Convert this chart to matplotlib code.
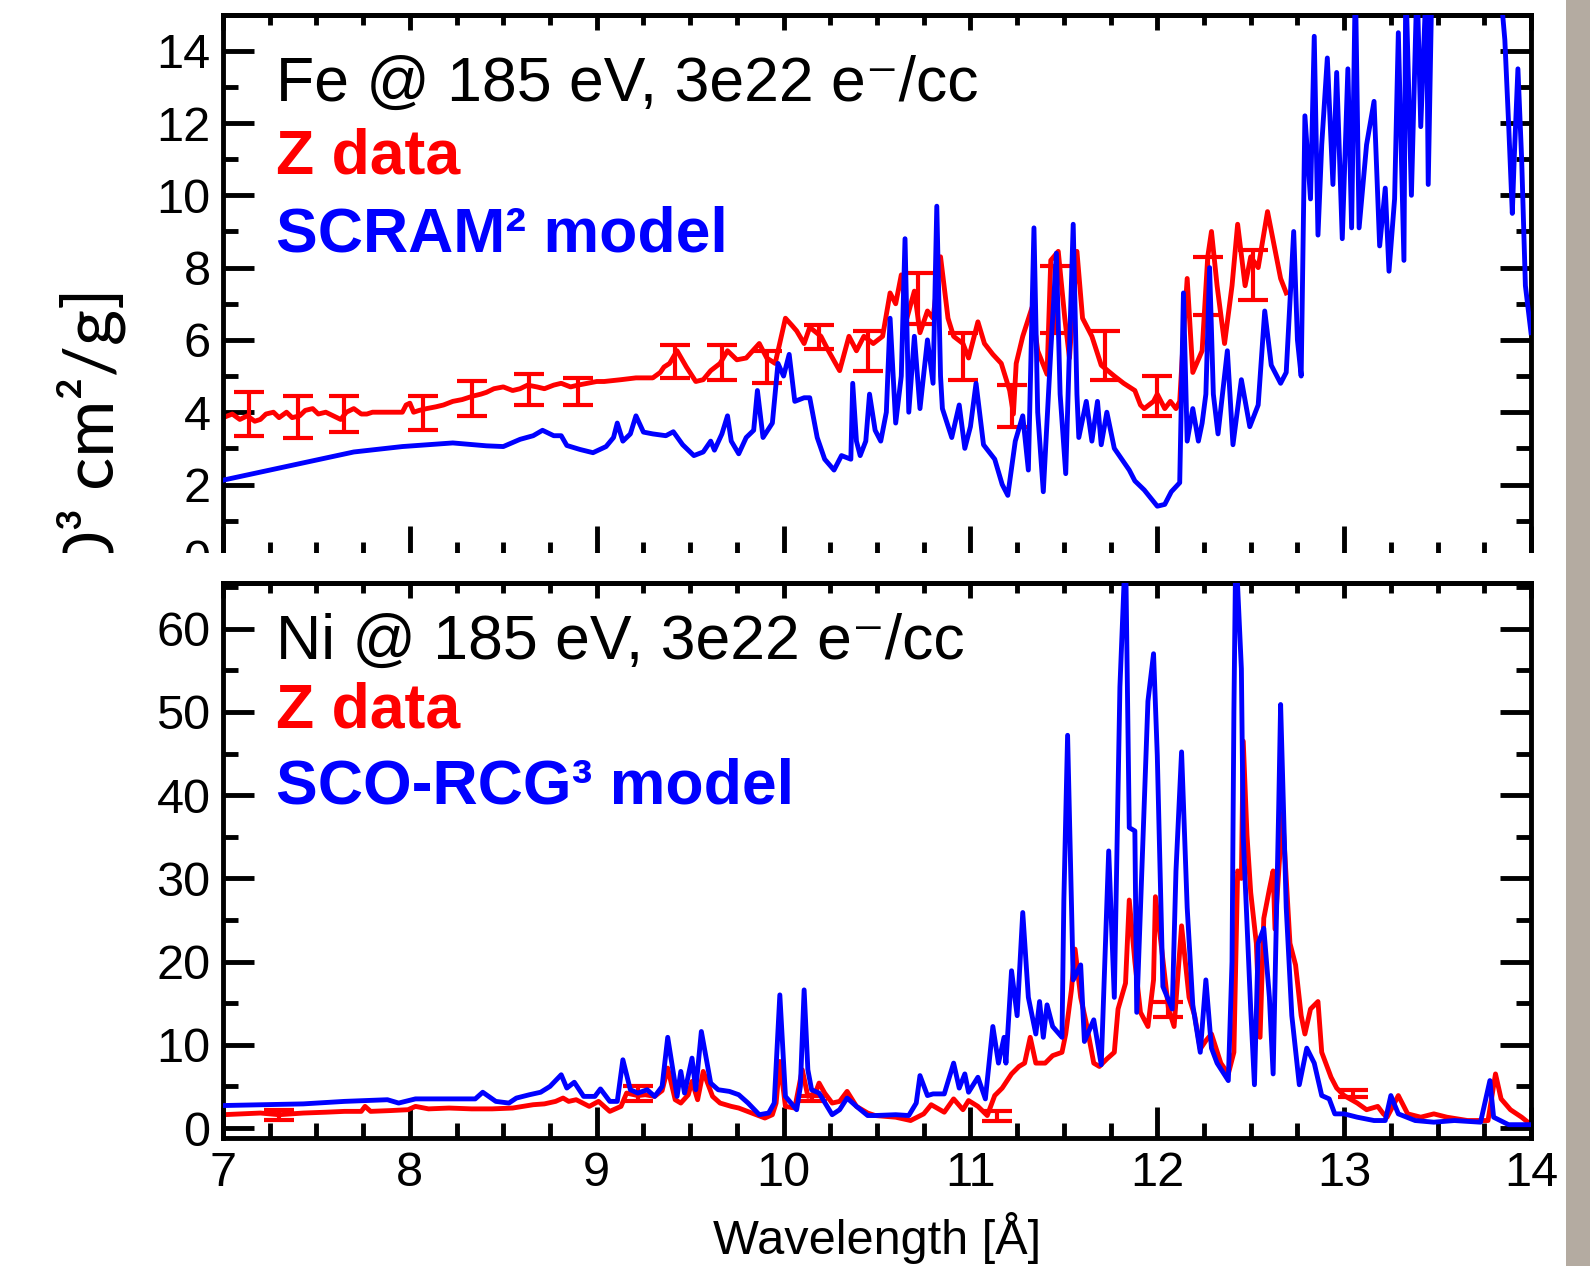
import numpy as np
import matplotlib.pyplot as plt
from matplotlib.patches import Rectangle
from matplotlib.ticker import MultipleLocator

# ---- Fe @ 185 eV : SCRAM model (blue) ----
fe_model_x = [7.00, 7.34, 7.70, 7.96, 8.23, 8.41, 8.50, 8.59, 8.66, 8.71, 8.77, 8.81, 8.84, 8.91, 8.98,
              9.05, 9.09, 9.11, 9.14, 9.18, 9.21, 9.25, 9.30, 9.37, 9.41, 9.46, 9.52, 9.57, 9.61, 9.63,
              9.67, 9.70, 9.72, 9.76, 9.80, 9.84, 9.86, 9.89, 9.94, 9.97, 10.00, 10.03, 10.06, 10.11, 10.14,
              10.18, 10.22, 10.27, 10.31, 10.36, 10.37, 10.39, 10.41, 10.44, 10.46, 10.49, 10.52, 10.55, 10.57, 10.60,
              10.63, 10.65, 10.67, 10.70, 10.73, 10.77, 10.80, 10.82, 10.84, 10.85, 10.90, 10.94, 10.97, 11.00, 11.03,
              11.07, 11.13, 11.17, 11.20, 11.24, 11.28, 11.31, 11.34, 11.36, 11.39, 11.43, 11.46, 11.48, 11.51, 11.55,
              11.57, 11.58, 11.62, 11.65, 11.68, 11.70, 11.73, 11.77, 11.85, 11.88, 11.93, 12.00, 12.04, 12.075, 12.12,
              12.14, 12.16, 12.19, 12.22, 12.24, 12.26, 12.28, 12.30, 12.325, 12.375, 12.405, 12.45, 12.495, 12.54, 12.575,
              12.61, 12.66, 12.69, 12.73, 12.75, 12.77, 12.79, 12.82, 12.84, 12.86, 12.88, 12.91, 12.94, 12.96, 12.99,
              13.02, 13.04, 13.06, 13.08, 13.12, 13.16, 13.19, 13.22, 13.24, 13.27, 13.29, 13.32, 13.33, 13.36, 13.39,
              13.41, 13.44, 13.45, 13.47, 13.60, 13.80, 13.84, 13.86, 13.88, 13.90, 13.91, 13.93, 13.95, 13.97, 14.00]
fe_model_y = [2.12, 2.50, 2.90, 3.05, 3.15, 3.07, 3.05, 3.25, 3.35, 3.50, 3.35, 3.35, 3.08, 2.97, 2.88,
              3.05, 3.30, 3.70, 3.20, 3.40, 3.90, 3.45, 3.40, 3.35, 3.46, 3.10, 2.80, 2.90, 3.20, 2.95,
              3.40, 3.90, 3.20, 2.85, 3.30, 3.50, 4.60, 3.30, 3.70, 5.35, 5.00, 5.60, 4.30, 4.40, 4.40,
              3.30, 2.70, 2.40, 2.80, 2.70, 4.80, 3.20, 2.80, 3.20, 4.50, 3.50, 3.20, 4.00, 6.60, 3.70,
              5.00, 8.80, 4.00, 6.10, 4.10, 6.00, 4.80, 9.70, 5.00, 4.10, 3.30, 4.20, 3.00, 3.60, 4.80,
              3.10, 2.70, 2.00, 1.70, 3.20, 3.90, 2.40, 9.10, 4.00, 1.80, 5.70, 8.40, 4.50, 2.30, 9.20,
              4.50, 3.30, 4.30, 3.20, 4.30, 3.10, 4.00, 3.00, 2.40, 2.10, 1.85, 1.40, 1.45, 1.80, 2.05,
              7.30, 3.20, 4.10, 3.20, 3.70, 4.50, 8.00, 4.50, 3.40, 5.70, 3.10, 4.90, 3.60, 4.20, 6.80,
              5.30, 4.80, 5.10, 9.00, 6.00, 5.00, 12.2, 9.90, 14.4, 8.90, 11.4, 13.8, 10.3, 13.4, 8.80,
              13.5, 9.10, 16.0, 9.10, 11.4, 12.6, 8.60, 10.2, 7.90, 9.90, 14.5, 8.20, 16.0, 10.0, 16.0,
              11.9, 16.0, 10.3, 16.0, 20.0, 18.0, 15.5, 14.3, 12.0, 9.50, 11.0, 13.5, 11.0, 7.50, 6.20]

# ---- Fe @ 185 eV : Z data (red) ----
fe_data_x = [7.00, 7.05, 7.09, 7.13, 7.17, 7.20, 7.23, 7.27, 7.30, 7.34, 7.37, 7.41, 7.44, 7.48, 7.51,
             7.55, 7.59, 7.63, 7.66, 7.70, 7.74, 7.77, 7.80, 7.96, 7.98, 8.00, 8.02, 8.05, 8.09, 8.14,
             8.18, 8.23, 8.28, 8.34, 8.38, 8.41, 8.45, 8.50, 8.55, 8.59, 8.63, 8.68, 8.72, 8.77, 8.81,
             8.86, 8.90, 8.95, 9.00, 9.04, 9.13, 9.21, 9.30, 9.34, 9.36, 9.39, 9.43, 9.48, 9.53, 9.57,
             9.61, 9.66, 9.70, 9.75, 9.80, 9.87, 9.91, 9.955, 10.01, 10.045, 10.07, 10.11, 10.14, 10.20, 10.24,
             10.30, 10.35, 10.39, 10.43, 10.48, 10.53, 10.57, 10.60, 10.63, 10.66, 10.70, 10.73, 10.77, 10.80, 10.84,
             10.88, 10.91, 10.96, 10.99, 11.04, 11.075, 11.12, 11.165, 11.21, 11.23, 11.245, 11.28, 11.33, 11.36, 11.41,
             11.43, 11.47, 11.505, 11.53, 11.57, 11.60, 11.65, 11.70, 11.77, 11.82, 11.88, 11.91, 11.93, 11.98, 12.00,
             12.04, 12.07, 12.10, 12.12, 12.14, 12.16, 12.18, 12.19, 12.24, 12.27, 12.29, 12.32, 12.36, 12.40, 12.43,
             12.47, 12.50, 12.54, 12.59, 12.63, 12.66, 12.69]
fe_data_y = [3.85, 3.95, 3.80, 3.90, 3.75, 3.80, 3.95, 4.00, 3.85, 4.00, 3.85, 3.90, 4.05, 4.10, 3.95,
             4.00, 3.90, 3.80, 4.00, 4.10, 3.95, 3.95, 4.00, 4.00, 4.20, 4.25, 4.00, 4.05, 4.10, 4.15,
             4.20, 4.30, 4.35, 4.45, 4.50, 4.55, 4.65, 4.70, 4.60, 4.65, 4.75, 4.70, 4.65, 4.75, 4.80,
             4.70, 4.75, 4.80, 4.85, 4.85, 4.90, 4.95, 4.95, 5.10, 5.25, 5.35, 5.70, 5.25, 4.85, 4.90,
             5.15, 5.35, 5.70, 5.45, 5.50, 5.90, 5.50, 5.35, 6.60, 6.40, 6.25, 5.90, 6.35, 6.10, 5.70,
             5.15, 6.10, 5.70, 6.10, 5.90, 6.10, 7.30, 7.00, 7.80, 6.60, 7.35, 6.20, 6.80, 6.60, 8.30,
             6.60, 6.10, 5.90, 5.50, 6.50, 5.90, 5.60, 5.35, 4.60, 3.95, 5.35, 6.10, 6.90, 5.70, 5.05,
             8.20, 8.45, 6.60, 5.50, 8.45, 6.60, 6.10, 5.30, 5.00, 4.80, 4.60, 4.20, 4.10, 4.30, 4.50,
             4.10, 4.30, 4.10, 4.30, 6.10, 7.70, 6.00, 5.10, 5.70, 8.30, 9.00, 7.50, 5.90, 7.50, 9.20,
             7.50, 8.30, 8.00, 9.55, 8.50, 7.70, 7.30]

fe_err_x = [7.14, 7.40, 7.65, 8.07, 8.33, 8.64, 8.90, 9.42, 9.67, 9.91, 10.19, 10.45, 10.72, 10.96,
            11.22, 11.45, 11.72, 12.00, 12.27, 12.51]
fe_err_lo = [3.35, 3.30, 3.45, 3.50, 3.90, 4.20, 4.20, 4.95, 4.90, 4.80, 5.75, 5.15, 6.45, 4.90,
             3.60, 6.20, 4.90, 3.90, 6.70, 7.10]
fe_err_hi = [4.55, 4.45, 4.45, 4.45, 4.85, 5.05, 4.95, 5.85, 5.85, 5.70, 6.40, 6.25, 7.85, 6.20,
             4.75, 8.05, 6.25, 5.00, 8.30, 8.50]

# ---- Ni @ 185 eV : SCO-RCG model (blue) ----
ni_model_x = [7.00, 7.43, 7.65, 7.88, 7.94, 8.03, 8.21, 8.35, 8.39, 8.46, 8.53, 8.57, 8.64, 8.70, 8.75,
              8.81, 8.84, 8.88, 8.93, 8.99, 9.02, 9.07, 9.11, 9.14, 9.18, 9.22, 9.27, 9.31, 9.35, 9.38,
              9.43, 9.45, 9.47, 9.51, 9.53, 9.56, 9.61, 9.65, 9.71, 9.76, 9.81, 9.87, 9.92, 9.95, 9.98,
              10.01, 10.07, 10.09, 10.11, 10.13, 10.15, 10.19, 10.26, 10.30, 10.34, 10.39, 10.45, 10.49, 10.60, 10.67,
              10.71, 10.73, 10.77, 10.80, 10.86, 10.91, 10.94, 10.97, 10.99, 11.04, 11.08, 11.12, 11.15, 11.18, 11.19,
              11.22, 11.25, 11.28, 11.31, 11.35, 11.37, 11.39, 11.41, 11.44, 11.49, 11.50, 11.52, 11.55, 11.59, 11.61,
              11.66, 11.70, 11.74, 11.77, 11.80, 11.83, 11.85, 11.88, 11.89, 11.95, 11.98, 12.00, 12.03, 12.08, 12.10,
              12.13, 12.16, 12.19, 12.23, 12.26, 12.29, 12.32, 12.38, 12.40, 12.41, 12.42, 12.45, 12.46, 12.50, 12.52,
              12.54, 12.57, 12.60, 12.62, 12.65, 12.66, 12.69, 12.72, 12.76, 12.80, 12.84, 12.88, 12.92, 12.95, 13.00,
              13.07, 13.16, 13.22, 13.25, 13.29, 13.38, 13.48, 13.59, 13.73, 13.78, 13.80, 13.88, 13.98, 14.00]
ni_model_y = [2.7, 2.9, 3.2, 3.4, 3.0, 3.5, 3.5, 3.5, 4.3, 3.2, 3.0, 3.6, 4.0, 4.3, 5.0,
              6.4, 4.8, 5.5, 3.8, 3.8, 4.7, 3.2, 3.2, 8.2, 4.6, 4.2, 4.6, 3.8, 5.0, 10.9,
              3.8, 6.8, 4.2, 8.4, 4.6, 11.6, 5.4, 4.6, 4.4, 4.0, 3.0, 1.6, 1.8, 3.0, 16.0,
              3.8, 2.2, 5.0, 16.6, 7.0, 4.6, 4.2, 1.6, 2.2, 3.6, 2.6, 1.5, 1.5, 1.6, 1.5,
              3.0, 6.3, 3.9, 4.1, 4.1, 7.8, 4.8, 6.5, 4.3, 6.1, 3.5, 12.2, 7.8, 10.9, 7.8,
              18.9, 13.5, 25.9, 15.7, 11.3, 15.2, 10.9, 14.8, 12.2, 10.9, 27.4, 47.2, 17.8, 19.6, 10.4,
              13.0, 7.6, 33.3, 15.7, 53.0, 70.0, 36.1, 35.7, 13.9, 51.3, 57.0, 44.8, 17.0, 14.3, 30.9,
              45.2, 26.5, 14.8, 9.1, 17.8, 9.6, 7.8, 5.7, 20.0, 50.0, 70.0, 55.2, 35.0, 14.3, 5.2,
              22.2, 24.0, 15.7, 6.5, 38.7, 50.9, 26.5, 13.5, 5.2, 9.6, 7.8, 3.9, 3.5, 1.7, 1.7,
              1.3, 0.9, 0.9, 3.9, 1.7, 0.9, 0.7, 0.9, 0.7, 5.7, 1.3, 0.4, 0.4, 0.4]

# ---- Ni @ 185 eV : Z data (red) ----
ni_data_x = [7.00, 7.10, 7.20, 7.30, 7.43, 7.55, 7.65, 7.74, 7.76, 7.79, 7.90, 7.99, 8.03, 8.10, 8.21,
             8.33, 8.44, 8.55, 8.66, 8.72, 8.78, 8.82, 8.85, 8.89, 8.96, 9.01, 9.07, 9.13, 9.16, 9.22,
             9.26, 9.31, 9.35, 9.38, 9.42, 9.45, 9.49, 9.51, 9.54, 9.57, 9.62, 9.66, 9.72, 9.76, 9.83,
             9.90, 9.94, 9.96, 9.98, 10.01, 10.06, 10.10, 10.13, 10.17, 10.19, 10.22, 10.26, 10.30, 10.34, 10.39,
             10.45, 10.49, 10.60, 10.68, 10.75, 10.79, 10.86, 10.91, 10.96, 10.99, 11.04, 11.09, 11.13, 11.17, 11.22,
             11.26, 11.29, 11.32, 11.35, 11.40, 11.44, 11.49, 11.51, 11.54, 11.56, 11.59, 11.62, 11.66, 11.69, 11.73,
             11.77, 11.79, 11.83, 11.85, 11.88, 11.91, 11.95, 11.98, 11.99, 12.02, 12.06, 12.09, 12.13, 12.17, 12.20,
             12.23, 12.26, 12.29, 12.34, 12.38, 12.41, 12.43, 12.45, 12.46, 12.48, 12.50, 12.53, 12.55, 12.57, 12.60,
             12.62, 12.63, 12.67, 12.71, 12.74, 12.77, 12.79, 12.82, 12.86, 12.88, 12.93, 12.96, 13.00, 13.07, 13.12,
             13.18, 13.21, 13.23, 13.29, 13.34, 13.41, 13.48, 13.55, 13.66, 13.77, 13.81, 13.84, 13.89, 13.95, 14.00]
ni_data_y = [1.6, 1.7, 1.8, 1.6, 1.8, 1.9, 2.0, 2.0, 2.6, 2.0, 2.1, 2.2, 2.6, 2.3, 2.4,
             2.3, 2.3, 2.4, 2.8, 2.9, 3.2, 3.6, 3.2, 3.4, 2.6, 3.2, 2.0, 2.6, 4.2, 3.9,
             4.0, 3.8, 4.5, 7.2, 3.4, 3.0, 4.0, 5.6, 3.4, 6.8, 3.8, 3.0, 2.6, 2.4, 1.8,
             1.2, 1.6, 3.0, 8.0, 2.6, 2.4, 7.0, 3.8, 4.2, 5.4, 4.2, 3.0, 3.2, 4.4, 2.6,
             1.8, 1.5, 1.3, 0.9, 1.7, 2.8, 1.9, 3.5, 2.2, 3.3, 2.6, 1.5, 3.9, 4.8, 6.5,
             7.4, 7.8, 10.9, 7.8, 7.8, 8.7, 9.1, 11.3, 16.5, 21.5, 15.7, 12.6, 7.8, 7.4, 8.3,
             9.1, 14.3, 17.4, 27.4, 20.0, 13.9, 12.2, 17.8, 27.8, 22.2, 14.3, 12.2, 24.3, 15.7, 13.5,
             9.5, 10.5, 11.3, 7.8, 6.5, 9.1, 30.9, 30.0, 46.5, 35.2, 28.3, 22.2, 10.9, 25.2, 28.7,
             30.9, 23.9, 37.8, 22.2, 19.6, 13.5, 11.3, 14.3, 15.2, 9.1, 6.1, 4.8, 3.9, 3.0, 2.2,
             2.6, 1.7, 1.3, 3.9, 1.7, 1.3, 1.7, 1.3, 0.9, 0.9, 6.5, 3.5, 2.2, 1.3, 0.4]

ni_err_x = [7.30, 9.22, 10.15, 11.14, 12.06, 13.05]
ni_err_lo = [1.0, 3.2, 3.2, 0.9, 13.3, 3.7]
ni_err_hi = [2.2, 5.0, 3.8, 2.0, 15.2, 4.6]

RED = '#ff0000'
BLUE = '#0000ff'
W, H = 1590, 1266
TICKFONT = ['Liberation Sans', 'DejaVu Sans']

plt.rcParams['font.family'] = TICKFONT
plt.rcParams['axes.linewidth'] = 3.5


def style_axes(ax, ymajor, yminor):
    ax.set_xlim(7, 14)
    ax.xaxis.set_major_locator(MultipleLocator(1))
    ax.xaxis.set_minor_locator(MultipleLocator(0.25))
    ax.yaxis.set_major_locator(MultipleLocator(ymajor))
    ax.yaxis.set_minor_locator(MultipleLocator(yminor))
    ax.tick_params(which='both', direction='in', width=3.5, left=True, right=True,
                   bottom=True, top=False, labelsize=35, colors='black')
    ax.tick_params(which='major', length=22, pad=9)
    ax.tick_params(which='minor', length=11)
    # shorter ticks along the top edge
    sec = ax.secondary_xaxis('top')
    sec.xaxis.set_major_locator(MultipleLocator(1))
    sec.xaxis.set_minor_locator(MultipleLocator(0.25))
    sec.tick_params(which='both', direction='in', width=3.5, labeltop=False)
    sec.tick_params(which='major', length=11)
    sec.tick_params(which='minor', length=7)
    sec.spines['top'].set_linewidth(3.5)


def draw_errors(ax, xs, lo, hi):
    lo = np.array(lo)
    hi = np.array(hi)
    mid = (lo + hi) / 2
    ax.errorbar(xs, mid, yerr=(hi - lo) / 2, fmt='none', ecolor=RED,
                elinewidth=3, capsize=11, capthick=3, zorder=3)


fig = plt.figure(figsize=(W / 100, H / 100), dpi=100)

# top panel (Fe)
ax1 = fig.add_axes([223 / W, 1 - 556.8 / H, 1308 / W, 542.2 / H])
ax1.set_zorder(1)
ax1.plot(fe_data_x, fe_data_y, color=RED, lw=3.5, zorder=2)
draw_errors(ax1, fe_err_x, fe_err_lo, fe_err_hi)
ax1.plot(fe_model_x, fe_model_y, color=BLUE, lw=3.5, zorder=4)
ax1.set_ylim(0, 15)
style_axes(ax1, 2, 1)
ax1.tick_params(labelbottom=False)

ax1.text(276 / W, 1 - 101 / H, 'Fe @ 185 eV, 3e22 e\u207b/cc', transform=fig.transFigure,
         fontsize=45, color='black', family=TICKFONT, va='baseline')
ax1.text(276 / W, 1 - 174 / H, 'Z data', transform=fig.transFigure,
         fontsize=45, color=RED, fontweight='bold', va='baseline')
ax1.text(276 / W, 1 - 251 / H, 'SCRAM\u00b2 model', transform=fig.transFigure,
         fontsize=45, color=BLUE, fontweight='bold', va='baseline')

# shared y label, partly hidden behind the lower panel
fig.text(91 / W, 1 - 287 / H, 'Opacity [10\u00b3 cm\u00b2/g]', rotation=90, ha='center', va='top',
         fontsize=50, family=['Lato', 'DejaVu Sans'], zorder=2)

# white sheet of the lower panel
fig.add_artist(Rectangle((0, 0), 1566 / W, 1 - 553 / H, transform=fig.transFigure,
                         facecolor='white', edgecolor='none', zorder=3))

# bottom panel (Ni)
ax2 = fig.add_axes([223 / W, 1 - 1138 / H, 1308 / W, 555 / H])
ax2.set_zorder(4)
ax2.plot(ni_data_x, ni_data_y, color=RED, lw=3.5, zorder=2)
draw_errors(ax2, ni_err_x, ni_err_lo, ni_err_hi)
ax2.plot(ni_model_x, ni_model_y, color=BLUE, lw=3.5, zorder=4)
ax2.set_ylim(-1.2, 65.5)
style_axes(ax2, 10, 5)
ax2.set_xlabel('Wavelength [\u00c5]', fontsize=35, labelpad=12)

ax2.text(276 / W, 1 - 659 / H, 'Ni @ 185 eV, 3e22 e\u207b/cc', transform=fig.transFigure,
         fontsize=45, color='black', family=TICKFONT, va='baseline')
ax2.text(276 / W, 1 - 728 / H, 'Z data', transform=fig.transFigure,
         fontsize=45, color=RED, fontweight='bold', va='baseline')
ax2.text(276 / W, 1 - 804 / H, 'SCO-RCG\u00b3 model', transform=fig.transFigure,
         fontsize=45, color=BLUE, fontweight='bold', va='baseline')

# grey strip at the right edge of the slide
fig.add_artist(Rectangle((1566 / W, 0), 1 - 1566 / W, 1, transform=fig.transFigure,
                         facecolor='#b4aba1', edgecolor='none', zorder=6))

fig.savefig('out.png', dpi=100)
